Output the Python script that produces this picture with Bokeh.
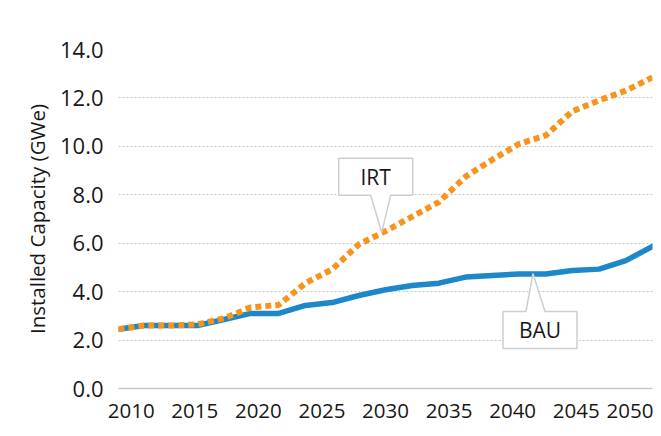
from bokeh.plotting import figure
from bokeh.models import Range1d, FixedTicker, CustomJSTickFormatter
from bokeh.core.properties import value
from bokeh.embed import file_html
from bokeh.resources import INLINE

# ---- data ----
years = [2009.0, 2011.0, 2013.1, 2015.2, 2017.3, 2019.4, 2021.6, 2023.7, 2025.8, 2027.9,
         2030.0, 2032.1, 2034.2, 2036.3, 2038.4, 2040.5, 2042.6, 2044.7, 2046.8, 2048.9, 2051.0]
bau = [2.45, 2.6, 2.6, 2.6, 2.85, 3.1, 3.1, 3.43, 3.55, 3.84,
       4.08, 4.25, 4.35, 4.6, 4.67, 4.73, 4.73, 4.87, 4.93, 5.28, 5.87]
irt = [2.45, 2.6, 2.6, 2.65, 2.9, 3.35, 3.45, 4.35, 4.92, 5.95,
       6.5, 7.1, 7.7, 8.75, 9.45, 10.1, 10.45, 11.45, 11.9, 12.3, 12.85]
x_ticks = [2010, 2015, 2020, 2025, 2030, 2035, 2040, 2045, 2050]
y_ticks = [0, 2, 4, 6, 8, 10, 12, 14]
y_title = "Installed Capacity (GWe)"
callouts = [("IRT", 2029.7, 6.45), ("BAU", 2041.6, 4.75)]

FONT = "Open Sans"
BLUE = "#1c87c9"
ORANGE = "#f7941d"
TXT = "#1a1718"

FW, FH = 534, 339
X0, X1 = 2009, 2051
Y0, Y1 = 0, 14

p = figure(frame_width=FW, frame_height=FH, output_backend="svg", toolbar_location=None,
           x_range=Range1d(X0, X1), y_range=Range1d(Y0, Y1),
           min_border_left=118, min_border_right=1, min_border_top=49, min_border_bottom=38)
p.outline_line_color = None
p.background_fill_color = "white"

# axes
p.xaxis.ticker = FixedTicker(ticks=x_ticks)
p.yaxis.ticker = FixedTicker(ticks=y_ticks)
p.yaxis.formatter = CustomJSTickFormatter(code="return tick.toFixed(1);")
for ax in (p.xaxis[0], p.yaxis[0]):
    ax.major_tick_line_color = None
    ax.minor_tick_line_color = None
    ax.major_label_text_font = FONT
    ax.major_label_text_color = TXT
p.xaxis.major_label_text_font_size = "20.5px"
p.yaxis.major_label_text_font_size = "22px"
p.yaxis.axis_line_color = None
p.xaxis.axis_line_color = "#c8c8c8"
p.xaxis.axis_line_width = 1.5
p.xaxis.major_label_standoff = 9
p.yaxis.major_label_standoff = 9
p.yaxis.axis_label = y_title
p.yaxis.axis_label_text_font = FONT
p.yaxis.axis_label_text_font_size = "20.5px"
p.yaxis.axis_label_text_font_style = "normal"
p.yaxis.axis_label_text_color = TXT
p.yaxis.axis_label_standoff = 6

p.xgrid.grid_line_color = None
p.ygrid.grid_line_color = "#c4c4c4"
p.ygrid.grid_line_dash = "2 2"
p.ygrid.grid_line_width = 1

# lines
p.line(years, bau, line_color=BLUE, line_width=5.5, line_join="round", line_cap="round")
p.line(years, irt, line_color=ORANGE, line_width=6, line_dash="6 4")

# callouts (shape given in pixel offsets from the anchor, converted to data units)
sx = (X1 - X0) / FW
sy = (Y1 - Y0) / FH
shapes = {
    "IRT": ([(-43, -74), (31, -74), (31, -37), (9, -37), (0, 0), (-11, -37), (-43, -37)], (-6, -55)),
    "BAU": ([(-30, 38), (-7, 38), (0, 0), (12, 38), (44, 38), (44, 75), (-30, 75)], (7, 57)),
}
for name, ax_, ay_ in callouts:
    pts, (tx, ty) = shapes[name]
    xs = [ax_ + dx * sx for dx, dy in pts]
    ys = [ay_ - dy * sy for dx, dy in pts]
    p.patch(xs, ys, fill_color="white", line_color="#c9cfd2", line_width=1.5)
    p.text(x=[ax_ + tx * sx], y=[ay_ - ty * sy], text=[name], text_font=value(FONT),
           text_font_size="21px", text_align="center", text_baseline="middle",
           text_color=TXT)

open("out.html", "w").write(file_html(p, INLINE))
